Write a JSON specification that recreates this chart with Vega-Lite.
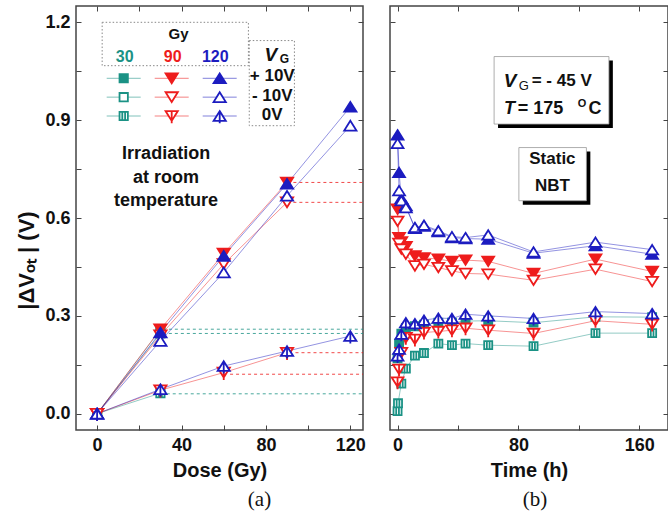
{
  "$schema": "https://vega.github.io/schema/vega-lite/v6.json",
  "padding": {"left": 15, "top": 4, "right": 0, "bottom": 0},
  "spacing": 20,
  "config": {
    "font": "Liberation Sans",
    "view": {"stroke": "#444", "strokeWidth": 1.5},
    "axis": {
      "labelFont": "Liberation Sans", "labelFontWeight": "bold", "labelFontSize": 18, "labelColor": "#111",
      "titleFont": "Liberation Sans", "titleFontWeight": "bold", "titleFontSize": 20, "titleColor": "#111",
      "tickColor": "#444", "tickSize": -5, "tickWidth": 1, "domain": false, "grid": false,
      "labelPadding": 11, "labelFlush": false, "labelOverlap": false, "titlePadding": 6
    },
    "text": {"font": "Liberation Sans", "fontWeight": "bold", "color": "#111"}
  },
  "datasets": {
    "dose": [
      {"gy": "30", "vg": "+10V", "dose": 0, "v": 0}, {"gy": "30", "vg": "+10V", "dose": 30, "v": 0.258},
      {"gy": "30", "vg": "-10V", "dose": 0, "v": 0}, {"gy": "30", "vg": "-10V", "dose": 30, "v": 0.246},
      {"gy": "30", "vg": "0V", "dose": 0, "v": 0}, {"gy": "30", "vg": "0V", "dose": 30, "v": 0.063},
      {"gy": "90", "vg": "+10V", "dose": 0, "v": 0}, {"gy": "90", "vg": "+10V", "dose": 30, "v": 0.259}, {"gy": "90", "vg": "+10V", "dose": 60, "v": 0.491}, {"gy": "90", "vg": "+10V", "dose": 90, "v": 0.709},
      {"gy": "90", "vg": "-10V", "dose": 0, "v": 0}, {"gy": "90", "vg": "-10V", "dose": 30, "v": 0.24}, {"gy": "90", "vg": "-10V", "dose": 60, "v": 0.459}, {"gy": "90", "vg": "-10V", "dose": 90, "v": 0.648},
      {"gy": "90", "vg": "0V", "dose": 0, "v": 0}, {"gy": "90", "vg": "0V", "dose": 30, "v": 0.072}, {"gy": "90", "vg": "0V", "dose": 60, "v": 0.126}, {"gy": "90", "vg": "0V", "dose": 90, "v": 0.187},
      {"gy": "120", "vg": "+10V", "dose": 0, "v": 0}, {"gy": "120", "vg": "+10V", "dose": 30, "v": 0.249}, {"gy": "120", "vg": "+10V", "dose": 60, "v": 0.484}, {"gy": "120", "vg": "+10V", "dose": 90, "v": 0.705}, {"gy": "120", "vg": "+10V", "dose": 120, "v": 0.941},
      {"gy": "120", "vg": "-10V", "dose": 0, "v": 0}, {"gy": "120", "vg": "-10V", "dose": 30, "v": 0.223}, {"gy": "120", "vg": "-10V", "dose": 60, "v": 0.433}, {"gy": "120", "vg": "-10V", "dose": 90, "v": 0.668}, {"gy": "120", "vg": "-10V", "dose": 120, "v": 0.883},
      {"gy": "120", "vg": "0V", "dose": 0, "v": 0}, {"gy": "120", "vg": "0V", "dose": 30, "v": 0.075}, {"gy": "120", "vg": "0V", "dose": 60, "v": 0.146}, {"gy": "120", "vg": "0V", "dose": 90, "v": 0.192}, {"gy": "120", "vg": "0V", "dose": 120, "v": 0.238}
    ],
    "ref": [
      {"gy": "30", "start": 34, "v": 0.259}, {"gy": "30", "start": 34, "v": 0.246}, {"gy": "30", "start": 33, "v": 0.061},
      {"gy": "90", "start": 93, "v": 0.709}, {"gy": "90", "start": 93, "v": 0.648}, {"gy": "90", "start": 94, "v": 0.187}, {"gy": "90", "start": 63, "v": 0.121}
    ],
    "legend": [
      {"gy": "30", "vg": "+10V"}, {"gy": "30", "vg": "-10V"}, {"gy": "30", "vg": "0V"},
      {"gy": "90", "vg": "+10V"}, {"gy": "90", "vg": "-10V"}, {"gy": "90", "vg": "0V"},
      {"gy": "120", "vg": "+10V"}, {"gy": "120", "vg": "-10V"}, {"gy": "120", "vg": "0V"}
    ],
    "time": [
      {"gy": "30", "vg": "+10V", "t": 0, "v": 0.17}, {"gy": "30", "vg": "+10V", "t": 1, "v": 0.215}, {"gy": "30", "vg": "+10V", "t": 2.5, "v": 0.245}, {"gy": "30", "vg": "+10V", "t": 5.5, "v": 0.262}, {"gy": "30", "vg": "+10V", "t": 11.5, "v": 0.268}, {"gy": "30", "vg": "+10V", "t": 17.5, "v": 0.273}, {"gy": "30", "vg": "+10V", "t": 27, "v": 0.279}, {"gy": "30", "vg": "+10V", "t": 36, "v": 0.279}, {"gy": "30", "vg": "+10V", "t": 45, "v": 0.284}, {"gy": "30", "vg": "+10V", "t": 60, "v": 0.285}, {"gy": "30", "vg": "+10V", "t": 90, "v": 0.279}, {"gy": "30", "vg": "+10V", "t": 131, "v": 0.297}, {"gy": "30", "vg": "+10V", "t": 168.5, "v": 0.296},
      {"gy": "30", "vg": "0V", "t": 0, "v": 0.008}, {"gy": "30", "vg": "0V", "t": 0.3, "v": 0.032}, {"gy": "30", "vg": "0V", "t": 2.5, "v": 0.092}, {"gy": "30", "vg": "0V", "t": 5.5, "v": 0.138}, {"gy": "30", "vg": "0V", "t": 11.5, "v": 0.178}, {"gy": "30", "vg": "0V", "t": 17.5, "v": 0.186}, {"gy": "30", "vg": "0V", "t": 27, "v": 0.215}, {"gy": "30", "vg": "0V", "t": 36, "v": 0.21}, {"gy": "30", "vg": "0V", "t": 45, "v": 0.215}, {"gy": "30", "vg": "0V", "t": 60, "v": 0.21}, {"gy": "30", "vg": "0V", "t": 90, "v": 0.207}, {"gy": "30", "vg": "0V", "t": 131, "v": 0.247}, {"gy": "30", "vg": "0V", "t": 168.5, "v": 0.247},
      {"gy": "90", "vg": "+10V", "t": 0, "v": 0.627}, {"gy": "90", "vg": "+10V", "t": 1, "v": 0.54}, {"gy": "90", "vg": "+10V", "t": 2.5, "v": 0.527}, {"gy": "90", "vg": "+10V", "t": 5.5, "v": 0.512}, {"gy": "90", "vg": "+10V", "t": 11.5, "v": 0.484}, {"gy": "90", "vg": "+10V", "t": 17.5, "v": 0.478}, {"gy": "90", "vg": "+10V", "t": 27, "v": 0.474}, {"gy": "90", "vg": "+10V", "t": 36, "v": 0.467}, {"gy": "90", "vg": "+10V", "t": 45, "v": 0.471}, {"gy": "90", "vg": "+10V", "t": 60, "v": 0.467}, {"gy": "90", "vg": "+10V", "t": 90, "v": 0.43}, {"gy": "90", "vg": "+10V", "t": 131, "v": 0.474}, {"gy": "90", "vg": "+10V", "t": 168.5, "v": 0.436},
      {"gy": "90", "vg": "-10V", "t": 0, "v": 0.59}, {"gy": "90", "vg": "-10V", "t": 1, "v": 0.522}, {"gy": "90", "vg": "-10V", "t": 2.5, "v": 0.505}, {"gy": "90", "vg": "-10V", "t": 5.5, "v": 0.489}, {"gy": "90", "vg": "-10V", "t": 11.5, "v": 0.453}, {"gy": "90", "vg": "-10V", "t": 17.5, "v": 0.458}, {"gy": "90", "vg": "-10V", "t": 27, "v": 0.448}, {"gy": "90", "vg": "-10V", "t": 36, "v": 0.438}, {"gy": "90", "vg": "-10V", "t": 45, "v": 0.43}, {"gy": "90", "vg": "-10V", "t": 60, "v": 0.428}, {"gy": "90", "vg": "-10V", "t": 90, "v": 0.409}, {"gy": "90", "vg": "-10V", "t": 131, "v": 0.443}, {"gy": "90", "vg": "-10V", "t": 168.5, "v": 0.405},
      {"gy": "90", "vg": "0V", "t": 0, "v": 0.097}, {"gy": "90", "vg": "0V", "t": 1, "v": 0.136}, {"gy": "90", "vg": "0V", "t": 2.5, "v": 0.187}, {"gy": "90", "vg": "0V", "t": 5.5, "v": 0.233}, {"gy": "90", "vg": "0V", "t": 11.5, "v": 0.228}, {"gy": "90", "vg": "0V", "t": 17.5, "v": 0.249}, {"gy": "90", "vg": "0V", "t": 27, "v": 0.252}, {"gy": "90", "vg": "0V", "t": 36, "v": 0.256}, {"gy": "90", "vg": "0V", "t": 45, "v": 0.262}, {"gy": "90", "vg": "0V", "t": 60, "v": 0.256}, {"gy": "90", "vg": "0V", "t": 90, "v": 0.246}, {"gy": "90", "vg": "0V", "t": 131, "v": 0.285}, {"gy": "90", "vg": "0V", "t": 168.5, "v": 0.274},
      {"gy": "120", "vg": "+10V", "t": 0, "v": 0.855}, {"gy": "120", "vg": "+10V", "t": 1, "v": 0.74}, {"gy": "120", "vg": "+10V", "t": 2.5, "v": 0.66}, {"gy": "120", "vg": "+10V", "t": 5.5, "v": 0.638}, {"gy": "120", "vg": "+10V", "t": 11.5, "v": 0.568}, {"gy": "120", "vg": "+10V", "t": 17.5, "v": 0.575}, {"gy": "120", "vg": "+10V", "t": 27, "v": 0.558}, {"gy": "120", "vg": "+10V", "t": 36, "v": 0.54}, {"gy": "120", "vg": "+10V", "t": 45, "v": 0.537}, {"gy": "120", "vg": "+10V", "t": 60, "v": 0.535}, {"gy": "120", "vg": "+10V", "t": 90, "v": 0.492}, {"gy": "120", "vg": "+10V", "t": 131, "v": 0.515}, {"gy": "120", "vg": "+10V", "t": 168.5, "v": 0.489},
      {"gy": "120", "vg": "-10V", "t": 0, "v": 0.829}, {"gy": "120", "vg": "-10V", "t": 1, "v": 0.684}, {"gy": "120", "vg": "-10V", "t": 2.5, "v": 0.653}, {"gy": "120", "vg": "-10V", "t": 5.5, "v": 0.632}, {"gy": "120", "vg": "-10V", "t": 11.5, "v": 0.571}, {"gy": "120", "vg": "-10V", "t": 17.5, "v": 0.578}, {"gy": "120", "vg": "-10V", "t": 27, "v": 0.561}, {"gy": "120", "vg": "-10V", "t": 36, "v": 0.543}, {"gy": "120", "vg": "-10V", "t": 45, "v": 0.54}, {"gy": "120", "vg": "-10V", "t": 60, "v": 0.548}, {"gy": "120", "vg": "-10V", "t": 90, "v": 0.496}, {"gy": "120", "vg": "-10V", "t": 131, "v": 0.526}, {"gy": "120", "vg": "-10V", "t": 168.5, "v": 0.503},
      {"gy": "120", "vg": "0V", "t": 0, "v": 0.177}, {"gy": "120", "vg": "0V", "t": 1, "v": 0.198}, {"gy": "120", "vg": "0V", "t": 2.5, "v": 0.244}, {"gy": "120", "vg": "0V", "t": 5.5, "v": 0.279}, {"gy": "120", "vg": "0V", "t": 11.5, "v": 0.276}, {"gy": "120", "vg": "0V", "t": 17.5, "v": 0.287}, {"gy": "120", "vg": "0V", "t": 27, "v": 0.293}, {"gy": "120", "vg": "0V", "t": 36, "v": 0.292}, {"gy": "120", "vg": "0V", "t": 45, "v": 0.305}, {"gy": "120", "vg": "0V", "t": 60, "v": 0.3}, {"gy": "120", "vg": "0V", "t": 90, "v": 0.292}, {"gy": "120", "vg": "0V", "t": 131, "v": 0.313}, {"gy": "120", "vg": "0V", "t": 168.5, "v": 0.307}
    ]
  },
  "hconcat": [
    {
      "width": 287, "height": 424,
      "title": {"text": "(a)", "orient": "bottom", "font": "Liberation Serif", "fontSize": 21, "fontWeight": "normal", "color": "#111", "anchor": "middle", "dx": 40, "offset": 9},
      "resolve": {"scale": {"x": "independent", "y": "independent"}},
      "layer": [
        {
          "layer": [
            {
              "data": {"values": [{}]},
              "mark": {"type": "rect", "filled": false, "stroke": "#888", "strokeWidth": 1, "strokeDash": [1.5, 2]},
              "encoding": {"x": {"datum": 2.4, "axis": null}, "x2": {"datum": 71.7}, "y": {"datum": 1.2, "axis": null}, "y2": {"datum": 1.067}}
            },
            {
              "data": {"values": [{}]},
              "mark": {"type": "rect", "filled": false, "stroke": "#888", "strokeWidth": 1, "strokeDash": [1.5, 2]},
              "encoding": {"x": {"datum": 72.1, "axis": null}, "x2": {"datum": 93.5}, "y": {"datum": 1.144, "axis": null}, "y2": {"datum": 0.883}}
            },
            {
              "data": {"name": "ref"},
              "mark": {"type": "rule", "strokeWidth": 1, "strokeDash": [3, 3], "opacity": 0.8},
              "encoding": {
                "x": {"field": "start", "type": "quantitative", "axis": null},
                "x2": {"datum": 126},
                "y": {"field": "v", "type": "quantitative", "axis": null},
                "color": {"field": "gy", "type": "nominal", "scale": {"domain": ["30", "90", "120"], "range": ["#1b9285", "#ee1c1c", "#1c1cc0"]}, "legend": null}
              }
            },
            {
              "data": {"name": "dose"},
              "mark": {"type": "line", "strokeWidth": 0.8, "opacity": 0.6},
              "encoding": {
                "x": {"field": "dose", "type": "quantitative", "scale": {"domain": [-10, 126], "nice": false, "zero": false},
                      "axis": {"orient": "top", "values": [0, 20, 40, 60, 80, 100, 120], "labels": false, "title": null}},
                "y": {"field": "v", "type": "quantitative", "scale": {"domain": [-0.05, 1.25], "nice": false, "zero": false},
                      "axis": {"orient": "right", "values": [0, 0.15, 0.3, 0.45, 0.6, 0.75, 0.9, 1.05, 1.2], "labels": false, "title": null}},
                "color": {"field": "gy", "type": "nominal", "scale": {"domain": ["30", "90", "120"], "range": ["#1b9285", "#ee1c1c", "#1c1cc0"]}, "legend": null},
                "detail": [{"field": "gy"}, {"field": "vg"}]
              }
            },
            {
              "data": {"name": "dose"},
              "mark": {"type": "point", "size": 150, "strokeWidth": 1.8, "opacity": 1},
              "encoding": {
                "x": {"field": "dose", "type": "quantitative",
                      "axis": {"orient": "bottom", "values": [0, 20, 40, 60, 80, 100, 120], "labelExpr": "datum.value % 40 === 0 ? datum.label : ''", "title": "Dose (Gy)"}},
                "y": {"field": "v", "type": "quantitative",
                      "axis": {"orient": "left", "values": [0, 0.15, 0.3, 0.45, 0.6, 0.75, 0.9, 1.05, 1.2], "labelExpr": "round(datum.value*100) % 30 === 0 ? format(datum.value, '.1f') : ''", "title": "|ΔVₒₜ | (V)", "titleFontSize": 22, "titleY": 254}},
                "shape": {"field": "gy", "type": "nominal", "legend": null,
                          "scale": {"domain": ["30", "90", "120"], "range": ["M-0.68,-0.68H0.68V0.68H-0.68Z", "M-1,-0.8H1L0,0.8Z", "M0,-0.8L1,0.8H-1Z"]},
                          "condition": [
                            {"test": "datum.vg === '0V' && datum.gy === '30'", "value": "M-0.68,-0.68H0.68V0.68H-0.68Z M-0.23,-0.68V0.68 M0.23,-0.68V0.68"},
                            {"test": "datum.vg === '0V' && datum.gy === '90'", "value": "M-1,-0.8H1L0,0.8Z M0,-0.8V1.2"},
                            {"test": "datum.vg === '0V' && datum.gy === '120'", "value": "M0,-0.8L1,0.8H-1Z M0,-0.8V1.2"}
                          ]},
                "fill": {"field": "gy", "type": "nominal", "legend": null, "scale": {"domain": ["30", "90", "120"], "range": ["#1b9285", "#ee1c1c", "#1c1cc0"]},
                         "condition": {"test": "datum.vg !== '+10V'", "value": "white"}},
                "stroke": {"field": "gy", "type": "nominal", "legend": null, "scale": {"domain": ["30", "90", "120"], "range": ["#1b9285", "#ee1c1c", "#1c1cc0"]}}
              }
            },
            {
              "data": {"values": [{}]},
              "mark": {"type": "text", "text": "Gy", "fontSize": 15, "align": "center", "baseline": "middle"},
              "encoding": {"x": {"datum": 38.6, "axis": null}, "y": {"datum": 1.164, "axis": null}}
            },
            {
              "data": {"values": [{}]},
              "mark": {"type": "text", "text": "30", "fontSize": 16, "align": "center", "baseline": "middle", "color": "#1b9285"},
              "encoding": {"x": {"datum": 13.1, "axis": null}, "y": {"datum": 1.093, "axis": null}}
            },
            {
              "data": {"values": [{}]},
              "mark": {"type": "text", "text": "90", "fontSize": 16, "align": "center", "baseline": "middle", "color": "#ee1c1c"},
              "encoding": {"x": {"datum": 35.8, "axis": null}, "y": {"datum": 1.093, "axis": null}}
            },
            {
              "data": {"values": [{}]},
              "mark": {"type": "text", "text": "120", "fontSize": 16, "align": "center", "baseline": "middle", "color": "#1c1cc0"},
              "encoding": {"x": {"datum": 56, "axis": null}, "y": {"datum": 1.093, "axis": null}}
            },
            {
              "data": {"values": [{}]},
              "mark": {"type": "text", "text": "V", "fontSize": 19, "fontStyle": "italic", "align": "left", "baseline": "middle"},
              "encoding": {"x": {"datum": 79.3, "axis": null}, "y": {"datum": 1.1, "axis": null}}
            },
            {
              "data": {"values": [{}]},
              "mark": {"type": "text", "text": "G", "fontSize": 12, "align": "left", "baseline": "middle"},
              "encoding": {"x": {"datum": 86.6, "axis": null}, "y": {"datum": 1.087, "axis": null}}
            },
            {
              "data": {"values": [{}]},
              "mark": {"type": "text", "text": ["+ 10V", "- 10V", "0V"], "fontSize": 17, "lineHeight": 19.5, "align": "center", "baseline": "middle"},
              "encoding": {"x": {"datum": 83, "axis": null}, "y": {"datum": 1.035, "axis": null}}
            },
            {
              "data": {"values": [{}]},
              "mark": {"type": "text", "text": ["Irradiation", "at room", "temperature"], "fontSize": 18, "lineHeight": 23.5, "align": "center", "baseline": "middle"},
              "encoding": {"x": {"datum": 32.7, "axis": null}, "y": {"datum": 0.796, "axis": null}}
            }
          ]
        },
        {
          "data": {"name": "legend"},
          "encoding": {
            "x": {"field": "gy", "type": "nominal", "axis": null, "scale": {"type": "point", "domain": ["30", "90", "120"], "range": [47.7, 143.7], "padding": 0}},
            "y": {"field": "vg", "type": "nominal", "axis": null, "scale": {"type": "point", "domain": ["+10V", "-10V", "0V"], "range": [72.3, 110], "padding": 0}}
          },
          "layer": [
            {
              "mark": {"type": "point", "shape": "M-1,0H1", "size": 1156, "strokeWidth": 1, "opacity": 0.55, "filled": false},
              "encoding": {"stroke": {"field": "gy", "type": "nominal", "legend": null}}
            },
            {
              "mark": {"type": "point", "size": 150, "strokeWidth": 1.8, "opacity": 1},
              "encoding": {
                "shape": {"field": "gy", "type": "nominal", "legend": null,
                          "condition": [
                            {"test": "datum.vg === '0V' && datum.gy === '30'", "value": "M-0.68,-0.68H0.68V0.68H-0.68Z M-0.23,-0.68V0.68 M0.23,-0.68V0.68"},
                            {"test": "datum.vg === '0V' && datum.gy === '90'", "value": "M-1,-0.8H1L0,0.8Z M0,-0.8V1.2"},
                            {"test": "datum.vg === '0V' && datum.gy === '120'", "value": "M0,-0.8L1,0.8H-1Z M0,-0.8V1.2"}
                          ]},
                "fill": {"field": "gy", "type": "nominal", "legend": null, "condition": {"test": "datum.vg !== '+10V'", "value": "white"}},
                "stroke": {"field": "gy", "type": "nominal", "legend": null}
              }
            }
          ]
        }
      ]
    },
    {
      "width": 278, "height": 424,
      "title": {"text": "(b)", "orient": "bottom", "font": "Liberation Serif", "fontSize": 21, "fontWeight": "normal", "color": "#111", "anchor": "middle", "dx": 6, "offset": 9},
      "layer": [
        {
          "data": {"name": "time"},
          "mark": {"type": "line", "strokeWidth": 0.8, "opacity": 0.6},
          "encoding": {
            "x": {"field": "t", "type": "quantitative", "scale": {"domain": [-5, 179], "nice": false, "zero": false},
                  "axis": {"orient": "top", "values": [0, 40, 80, 120, 160], "labels": false, "title": null}},
            "y": {"field": "v", "type": "quantitative", "scale": {"domain": [-0.05, 1.25], "nice": false, "zero": false},
                  "axis": {"orient": "right", "values": [0, 0.15, 0.3, 0.45, 0.6, 0.75, 0.9, 1.05, 1.2], "labels": false, "title": null}},
            "color": {"field": "gy", "type": "nominal", "scale": {"domain": ["30", "90", "120"], "range": ["#1b9285", "#ee1c1c", "#1c1cc0"]}, "legend": null},
            "detail": [{"field": "gy"}, {"field": "vg"}]
          }
        },
        {
          "data": {"name": "time"},
          "mark": {"type": "point", "size": 140, "strokeWidth": 1.8, "opacity": 1},
          "encoding": {
            "x": {"field": "t", "type": "quantitative",
                  "axis": {"orient": "bottom", "values": [0, 40, 80, 120, 160], "labelExpr": "datum.value % 80 === 0 ? datum.label : ''", "title": "Time (h)"}},
            "y": {"field": "v", "type": "quantitative",
                  "axis": {"orient": "left", "values": [0, 0.15, 0.3, 0.45, 0.6, 0.75, 0.9, 1.05, 1.2], "labels": false, "title": null}},
            "shape": {"field": "gy", "type": "nominal", "legend": null,
                      "scale": {"domain": ["30", "90", "120"], "range": ["M-0.68,-0.68H0.68V0.68H-0.68Z", "M-1,-0.8H1L0,0.8Z", "M0,-0.8L1,0.8H-1Z"]},
                      "condition": [
                        {"test": "datum.vg === '0V' && datum.gy === '30'", "value": "M-0.68,-0.68H0.68V0.68H-0.68Z M-0.23,-0.68V0.68 M0.23,-0.68V0.68"},
                        {"test": "datum.vg === '0V' && datum.gy === '90'", "value": "M-1,-0.8H1L0,0.8Z M0,-0.8V1.2"},
                        {"test": "datum.vg === '0V' && datum.gy === '120'", "value": "M0,-0.8L1,0.8H-1Z M0,-0.8V1.2"}
                      ]},
            "fill": {"field": "gy", "type": "nominal", "legend": null, "scale": {"domain": ["30", "90", "120"], "range": ["#1b9285", "#ee1c1c", "#1c1cc0"]},
                     "condition": {"test": "datum.vg !== '+10V'", "value": "white"}},
            "stroke": {"field": "gy", "type": "nominal", "legend": null, "scale": {"domain": ["30", "90", "120"], "range": ["#1b9285", "#ee1c1c", "#1c1cc0"]}}
          }
        },
        {
          "data": {"values": [{}]},
          "mark": {"type": "rect", "color": "#000"},
          "encoding": {"x": {"datum": 66.5, "axis": null}, "x2": {"datum": 142.5}, "y": {"datum": 1.083, "axis": null}, "y2": {"datum": 0.876}}
        },
        {
          "data": {"values": [{}]},
          "mark": {"type": "rect", "fill": "white", "stroke": "#999", "strokeWidth": 0.8},
          "encoding": {"x": {"datum": 63.9, "axis": null}, "x2": {"datum": 139.9}, "y": {"datum": 1.095, "axis": null}, "y2": {"datum": 0.888}}
        },
        {
          "data": {"values": [{}]},
          "mark": {"type": "rect", "color": "#000"},
          "encoding": {"x": {"datum": 82.9, "axis": null}, "x2": {"datum": 127.6}, "y": {"datum": 0.804, "axis": null}, "y2": {"datum": 0.641}}
        },
        {
          "data": {"values": [{}]},
          "mark": {"type": "rect", "fill": "white", "stroke": "#999", "strokeWidth": 0.8},
          "encoding": {"x": {"datum": 80.3, "axis": null}, "x2": {"datum": 125}, "y": {"datum": 0.816, "axis": null}, "y2": {"datum": 0.653}}
        },
        {
          "data": {"values": [{}]},
          "mark": {"type": "text", "text": "V", "fontSize": 19, "fontStyle": "italic", "align": "left", "baseline": "middle"},
          "encoding": {"x": {"datum": 70.3, "axis": null}, "y": {"datum": 1.019, "axis": null}}
        },
        {
          "data": {"values": [{}]},
          "mark": {"type": "text", "text": "G", "fontSize": 13, "fontWeight": "normal", "align": "left", "baseline": "middle"},
          "encoding": {"x": {"datum": 80.2, "axis": null}, "y": {"datum": 1.005, "axis": null}}
        },
        {
          "data": {"values": [{}]},
          "mark": {"type": "text", "text": "= - 45 V", "fontSize": 17, "align": "left", "baseline": "middle"},
          "encoding": {"x": {"datum": 88.8, "axis": null}, "y": {"datum": 1.019, "axis": null}}
        },
        {
          "data": {"values": [{}]},
          "mark": {"type": "text", "text": "T", "fontSize": 18, "fontStyle": "italic", "align": "left", "baseline": "middle"},
          "encoding": {"x": {"datum": 70.5, "axis": null}, "y": {"datum": 0.934, "axis": null}}
        },
        {
          "data": {"values": [{}]},
          "mark": {"type": "text", "text": "= 175", "fontSize": 18, "align": "left", "baseline": "middle"},
          "encoding": {"x": {"datum": 79.5, "axis": null}, "y": {"datum": 0.934, "axis": null}}
        },
        {
          "data": {"values": [{}]},
          "mark": {"type": "text", "text": "O", "fontSize": 11, "align": "left", "baseline": "middle"},
          "encoding": {"x": {"datum": 119.2, "axis": null}, "y": {"datum": 0.95, "axis": null}}
        },
        {
          "data": {"values": [{}]},
          "mark": {"type": "text", "text": "C", "fontSize": 18, "align": "left", "baseline": "middle"},
          "encoding": {"x": {"datum": 126.3, "axis": null}, "y": {"datum": 0.934, "axis": null}}
        },
        {
          "data": {"values": [{}]},
          "mark": {"type": "text", "text": ["Static", "NBT"], "fontSize": 17, "lineHeight": 26.7, "align": "center", "baseline": "middle"},
          "encoding": {"x": {"datum": 102.5, "axis": null}, "y": {"datum": 0.781, "axis": null}}
        }
      ]
    }
  ]
}
